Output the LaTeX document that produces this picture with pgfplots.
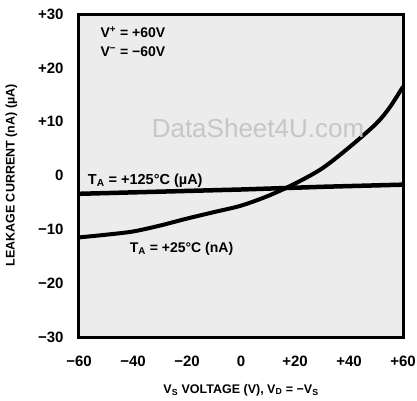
\documentclass[border=0pt]{standalone}
\usepackage{fontspec}
\setmainfont{Liberation Sans}
\newfontfamily\wmfont{Liberation Sans}
\usepackage{pgfplots}
\pgfplotsset{compat=1.18}

\begin{document}
\begin{tikzpicture}
\useasboundingbox (-79pt,-63pt) rectangle (338pt,337pt);
\begin{axis}[
    at={(0,0)}, anchor=south west,
    scale only axis,
    width=324pt, height=323pt,
    xmin=-60, xmax=60, ymin=-30, ymax=30,
    xtick={-60,-40,...,60},
    ytick={-30,-20,...,30},
    xticklabels={−60,−40,−20,0,+20,+40,+60},
    yticklabels={−30,−20,−10,0,+10,+20,+30},
    major tick length=0pt,
    axis line style={line width=3pt},
    axis background/.style={fill=gray!15},
    /pgf/number format/assume math mode=true,
    ticklabel style={font=\bfseries\fontsize{15}{17}\selectfont},
    xticklabel style={yshift=-15pt},
    yticklabel style={xshift=-12pt},
    xlabel={V\textsubscript{S} VOLTAGE (V), V\textsubscript{D} = −V\textsubscript{S}},
    ylabel={LEAKAGE CURRENT (nA) (µA)},
    label style={font=\bfseries\fontsize{12.5}{15}\selectfont},
    xlabel style={yshift=-11pt},
    ylabel style={yshift=14pt},
    clip=false,
]
% T_A = +125 C (uA)
\addplot[black, line width=4.5pt] coordinates {
  (-60,-3.4) (-30,-3.0) (0,-2.6) (30,-2.1) (60,-1.7)
};
% T_A = +25 C (nA)
\addplot[black, line width=4pt, smooth] coordinates {
  (-60,-11.5) (-50,-11.0) (-40,-10.4) (-30,-9.3) (-20,-8.0) (-10,-6.8)
  (0,-5.6) (10,-3.8) (20,-1.5) (30,1.3) (40,5.2) (50,9.6) (55,12.6) (60,16.5)
};
\node[font=\wmfont\fontsize{26}{28}\selectfont, text=gray!45] at (axis cs:6.3,8.7) {DataSheet4U.com};
\node[anchor=west, font=\bfseries\fontsize{14}{16}\selectfont] at (axis cs:-53.3,26.6)
  {V\textsuperscript{+} = +60V};
\node[anchor=west, font=\bfseries\fontsize{14}{16}\selectfont] at (axis cs:-53.3,23.0)
  {V\textsuperscript{−} = −60V};
\node[anchor=west, font=\bfseries\fontsize{14.5}{16}\selectfont] at (axis cs:-58,-1.0)
  {T\textsubscript{A} = +125°C (µA)};
\node[anchor=west, font=\bfseries\fontsize{14}{16}\selectfont] at (axis cs:-42.5,-13.6)
  {T\textsubscript{A} = +25°C (nA)};
\end{axis}
\end{tikzpicture}
\end{document}
